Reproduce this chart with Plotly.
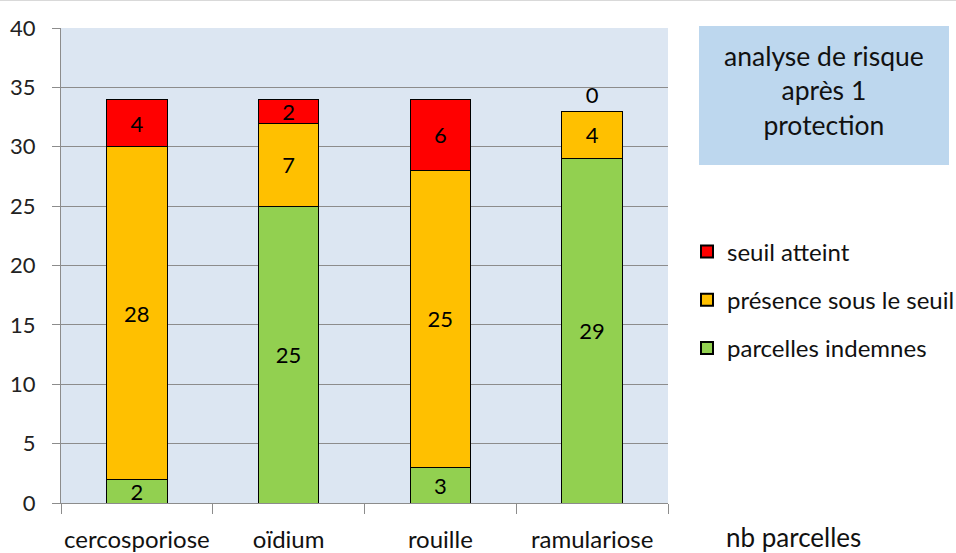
import plotly.graph_objects as go

categories = ["cercosporiose", "oïdium", "rouille", "ramulariose"]
indemnes = [2, 25, 3, 29]
presence = [28, 7, 25, 4]
seuil = [4, 2, 6, 0]
y_ticks = [0, 5, 10, 15, 20, 25, 30, 35, 40]

FONT = "Lato"
fig = go.Figure()
line = dict(color="#000000", width=1)
lbl = dict(color="black", size=22, family=FONT)
fig.add_trace(go.Bar(x=categories, y=indemnes, name="parcelles indemnes", legendgroup="a",
                     legendrank=3,
                     marker=dict(color="#92d050", line=line),
                     text=indemnes, textposition="inside", insidetextanchor="middle",
                     textangle=0, textfont=lbl))
fig.add_trace(go.Bar(x=categories, y=presence, name="présence sous le seuil", legendgroup="b",
                     legendrank=2,
                     marker=dict(color="#ffc000", line=line),
                     text=presence, textposition="inside", insidetextanchor="middle",
                     textangle=0, textfont=lbl))
fig.add_trace(go.Bar(x=categories, y=seuil, name="seuil atteint", legendgroup="c",
                     legendrank=1,
                     marker=dict(color="#ff0000", line=line),
                     text=seuil,
                     textposition=["inside" if v > 0 else "outside" for v in seuil],
                     insidetextanchor="middle", textangle=0,
                     textfont=lbl, cliponaxis=False))

fig.update_layout(
    width=956, height=553, autosize=False,
    margin=dict(l=61, r=288, t=28, b=50),
    barmode="stack", bargap=0.6,
    plot_bgcolor="#dce6f2", paper_bgcolor="white",
    font=dict(family=FONT, size=22, color="#222222"),
    uniformtext=dict(minsize=22, mode="show"),
    showlegend=True,
    legend=dict(x=668 / 956, xanchor="left", xref="container",
                y=1 - 300 / 553, yanchor="middle", yref="container",
                traceorder="grouped", font=dict(size=24, color="#111111"),
                itemsizing="constant", tracegroupgap=14, itemwidth=30,
                bgcolor="rgba(0,0,0,0)", indentation=19),
    xaxis=dict(showline=True, linecolor="#8c8c8c", linewidth=1, automargin=False,
               ticks="outside", tickson="boundaries", ticklen=10, tickcolor="#8c8c8c",
               tickangle=0,
               ticklabelstandoff=15, tickfont=dict(size=24, color="#111111"),
               showgrid=False),
    yaxis=dict(range=[0, 40], tickvals=y_ticks, showgrid=True, gridcolor="#8c8c8c",
               gridwidth=1, showline=True, linecolor="#8c8c8c",
               ticks="outside", ticklen=8, tickwidth=1, tickcolor="#8c8c8c", automargin=False,
               tickfont=dict(size=22, color="#222222"), zeroline=False,
               ticklabelstandoff=12),
    shapes=[
        dict(type="rect", xref="paper", yref="paper", x0=(699 - 61) / 607, x1=(949 - 61) / 607,
             y0=(503 - 165) / 475, y1=(503 - 26) / 475, fillcolor="#bdd7ee", line=dict(width=0),
             layer="below"),
        dict(type="line", xref="paper", yref="paper", x0=-61 / 607, x1=(956 - 61) / 607,
             y0=(503 - 0.5) / 475, y1=(503 - 0.5) / 475, line=dict(color="#d9d9d9", width=1)),
    ],
    annotations=[
        dict(text="analyse de risque<br>après 1<br>protection", xref="paper", yref="paper",
             x=(824 - 61) / 607, y=(503 - 90) / 475, showarrow=False, xanchor="center",
             yanchor="middle", font=dict(size=26.5, color="#111111", family=FONT)),
        dict(text="nb parcelles", xref="paper", yref="paper",
             x=(793 - 61) / 607, y=(503 - 537) / 475, showarrow=False, xanchor="center",
             yanchor="middle", font=dict(size=26, color="#111111", family=FONT)),
    ],
)

fig.write_html("out.html", config={"displayModeBar": False, "responsive": False},
               post_script="document.body.style.margin='0px';document.body.style.overflow='hidden';")
